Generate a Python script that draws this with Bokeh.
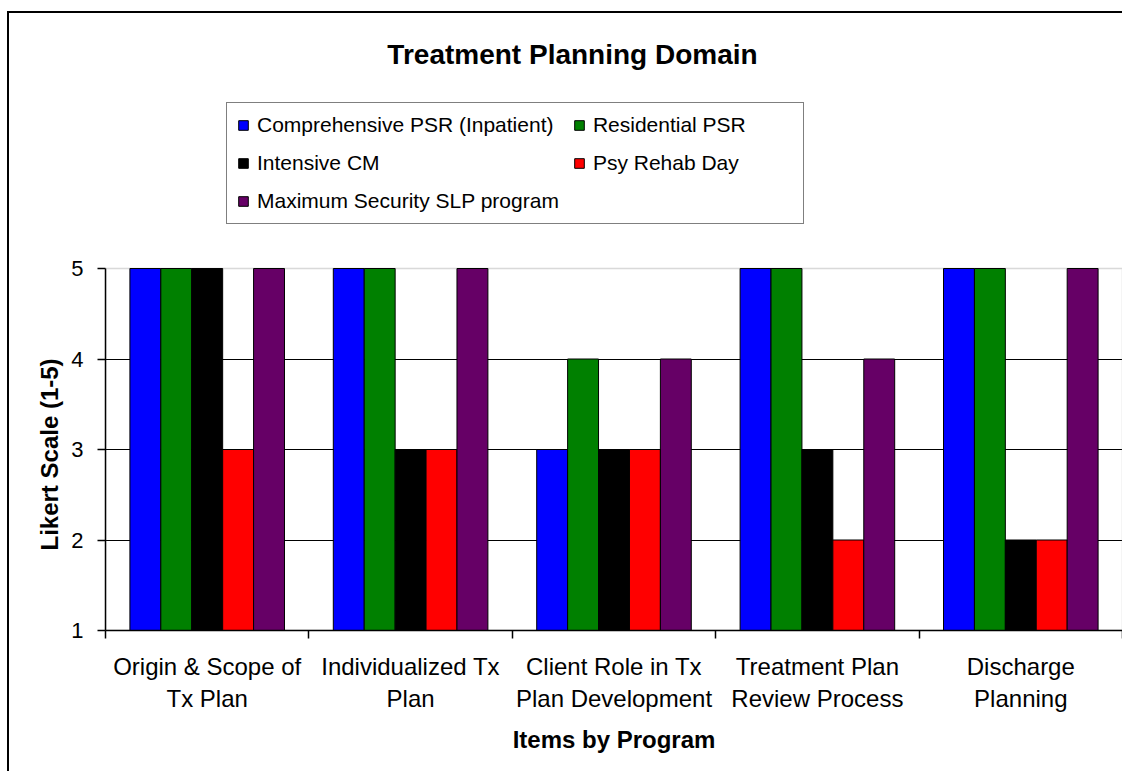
from bokeh.plotting import figure
from bokeh.models import (Range1d, FixedTicker, Legend, LegendItem, Label, ColumnDataSource,
                          BoxAnnotation, Title)
from bokeh.transform import dodge
from bokeh.embed import file_html
from bokeh.resources import INLINE

# ---- data ----
categories = ["Origin & Scope of\nTx Plan", "Individualized Tx\nPlan",
              "Client Role in Tx\nPlan Development", "Treatment Plan\nReview Process",
              "Discharge\nPlanning"]
series_names = ["Comprehensive PSR (Inpatient)", "Residential PSR", "Intensive CM",
                "Psy Rehab Day", "Maximum Security SLP program"]
comprehensive = [5, 5, 3, 5, 5]
residential = [5, 5, 4, 5, 5]
intensive_cm = [5, 3, 3, 3, 2]
psy_rehab_day = [3, 3, 3, 2, 2]
max_security = [5, 5, 4, 4, 5]
colors = ["#0000FF", "#008000", "#000000", "#FF0000", "#660066"]
y_ticks = [1, 2, 3, 4, 5]
y_min, y_max = 1, 5

series_values = [comprehensive, residential, intensive_cm, psy_rehab_day, max_security]
ncat = len(categories)
centers = [i + 0.5 for i in range(ncat)]
keys = ["s%d" % i for i in range(len(series_values))]
data = {"xc": centers}
for k, v in zip(keys, series_values):
    data[k] = v
src = ColumnDataSource(data=data)

FONT = "Liberation Sans"

# layout (pixels): plot area from y=268 (value 5) to y=630 (value 1); frame extends up to 25
plot_top_px, plot_bot_px, frame_top_px = 268, 630, 25
px_per_unit = (plot_bot_px - plot_top_px) / (y_max - y_min)
y_top = y_max + (plot_top_px - frame_top_px) / px_per_unit

p = figure(x_range=Range1d(0, ncat), y_range=Range1d(y_min, y_top),
           width=1115, height=760,
           min_border_left=96, min_border_right=2, min_border_top=12, min_border_bottom=143,
           toolbar_location=None, output_backend="svg")
p.styles = {"border-top": "2px solid black", "border-left": "2px solid black",
            "margin-top": "11px", "margin-left": "7px"}
p.background_fill_color = "white"
p.border_fill_color = "white"
p.outline_line_color = None

# plot-area border (grey)
p.add_layout(BoxAnnotation(left=0, right=ncat, bottom=y_min, top=y_max,
                           fill_alpha=0, line_color="#808080", line_width=1.5,
                           level="underlay"))

bar_w = 0.152
n = len(series_values)
renderers = []
for i, (k, c) in enumerate(zip(keys, colors)):
    off = (i - (n - 1) / 2) * bar_w
    r = p.vbar(x=dodge("xc", off), top=k, bottom=y_min, width=bar_w,
               fill_color=c, line_color="black", line_width=1, source=src)
    renderers.append(r)

# grid
p.xgrid.visible = False
p.ygrid.ticker = FixedTicker(ticks=[2, 3, 4])
p.ygrid.grid_line_color = "black"
p.ygrid.grid_line_width = 1

# y axis
ya = p.yaxis[0]
ya.ticker = FixedTicker(ticks=y_ticks)
ya.bounds = (y_min, y_max)
ya.major_tick_out = 8
ya.major_tick_in = 0
ya.minor_tick_line_color = None
ya.axis_line_color = "black"
ya.axis_line_width = 1.5
ya.major_tick_line_width = 1.5
ya.major_label_text_font = FONT
ya.major_label_text_font_size = "22px"
ya.major_label_text_color = "black"
ya.major_label_standoff = 14

# y axis title (placed as a side title so it can be centred on the plot area)
ytitle = Title(text="Likert Scale (1-5)", align="left", offset=80, standoff=12,
               text_font=FONT, text_font_size="24px", text_font_style="bold",
               text_color="black")
p.add_layout(ytitle, "left")

# x axis: labels at category centres, ticks (minor) at category boundaries
xa = p.xaxis[0]
xa.ticker = FixedTicker(ticks=centers, minor_ticks=list(range(ncat + 1)))
xa.major_label_overrides = {c: lab for c, lab in zip(centers, categories)}
xa.major_tick_line_color = None
xa.major_tick_out = 8
xa.major_tick_in = 0
xa.minor_tick_out = 8
xa.minor_tick_in = 0
xa.minor_tick_line_color = "black"
xa.minor_tick_line_width = 1.5
xa.axis_line_color = "black"
xa.axis_line_width = 1.5
xa.major_label_standoff = 14
xa.major_label_text_font = FONT
xa.major_label_text_font_size = "24px"
xa.major_label_text_color = "black"
xa.major_label_text_line_height = 1.2
xa.axis_label = "Items by Program"
xa.axis_label_text_font = FONT
xa.axis_label_text_font_size = "24px"
xa.axis_label_text_font_style = "bold"
xa.axis_label_text_color = "black"
xa.axis_label_standoff = 11

# legend
items = [LegendItem(label=nm, renderers=[r]) for nm, r in zip(series_names, renderers)]
legend = Legend(items=items, location=(121, 406), orientation="horizontal", ncols=2,
                label_text_font=FONT, label_text_font_size="21px", label_text_color="black",
                glyph_width=12, glyph_height=12, label_standoff=8, spacing=14, padding=10,
                label_width=200,
                margin=0, border_line_color="black", border_line_width=1.5,
                background_fill_color="white", background_fill_alpha=1.0)
p.add_layout(legend, "center")

# title
title = Label(x=467, y=576, x_units="screen", y_units="screen",
              text="Treatment Planning Domain", text_font=FONT, text_font_size="28px",
              text_font_style="bold", text_align="center", text_baseline="alphabetic",
              text_color="black")
p.add_layout(title)

open("out.html", "w").write(file_html(p, INLINE))
